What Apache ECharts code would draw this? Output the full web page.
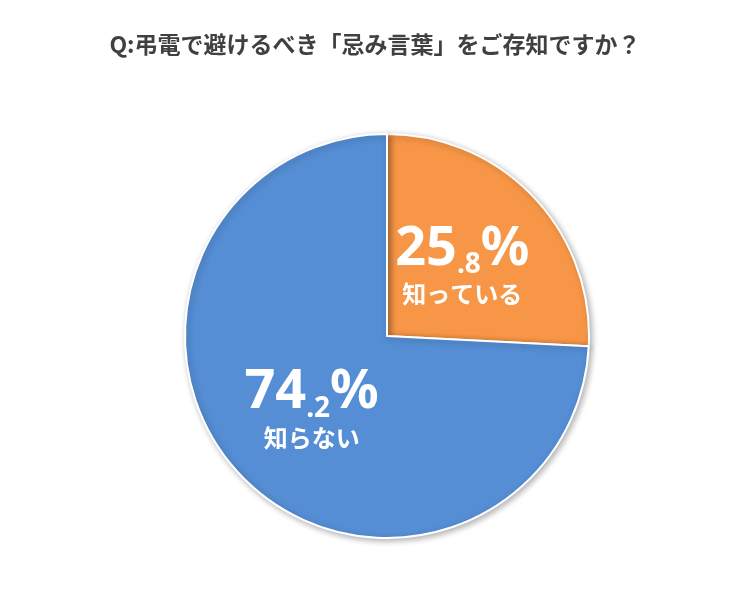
<!DOCTYPE html>
<html><head><meta charset="utf-8">
<script src="https://cdn.jsdelivr.net/npm/echarts@6/dist/echarts.min.js"></script>
<style>html,body{margin:0;background:#fff}#c{width:750px;height:600px}</style>
</head><body><div id="c"></div>
<script>
const categories = ['知っている', '知らない'];
const values = [25.8, 74.2];
const colors = ['#F79646', '#558ED5'];
const chart = echarts.init(document.getElementById('c'));
chart.setOption({
  title: {text: 'Q:弔電で避けるべき「忌み言葉」をご存知ですか？', left: 'center', top: 28,
    textStyle: {fontSize: 23, fontWeight: 'bold', color: '#404040', fontFamily: 'Noto Sans CJK JP'}},
  series: [{
    type: 'pie', center: [387, 336], radius: 202, startAngle: 90, clockwise: true,
    animation: false,
    data: categories.map((n, i) => ({name: n, value: values[i], itemStyle: {color: colors[i]}})),
    itemStyle: {borderColor: '#fff', borderWidth: 2, shadowBlur: 6, shadowColor: 'rgba(0,0,0,0.3)', shadowOffsetX: 2, shadowOffsetY: 2},
    label: {
      position: 'inside',
      formatter: p => {
        const [a, b] = String(p.value).split('.');
        return '{big|' + a + '}{small|.' + b + '}{big|%}\n{name|' + p.name + '}';
      },
      rich: {
        big: {fontSize: 54, fontWeight: 'bold', color: '#fff', fontFamily: 'Noto Sans', lineHeight: 60},
        small: {fontSize: 28, fontWeight: 'bold', color: '#fff', fontFamily: 'Noto Sans', verticalAlign: 'bottom', lineHeight: 60},
        name: {fontSize: 24, fontWeight: 'bold', color: '#fff', fontFamily: 'Noto Sans CJK JP', lineHeight: 30}
      }
    },
    labelLine: {show: false}
  }]
});
</script></body></html>
